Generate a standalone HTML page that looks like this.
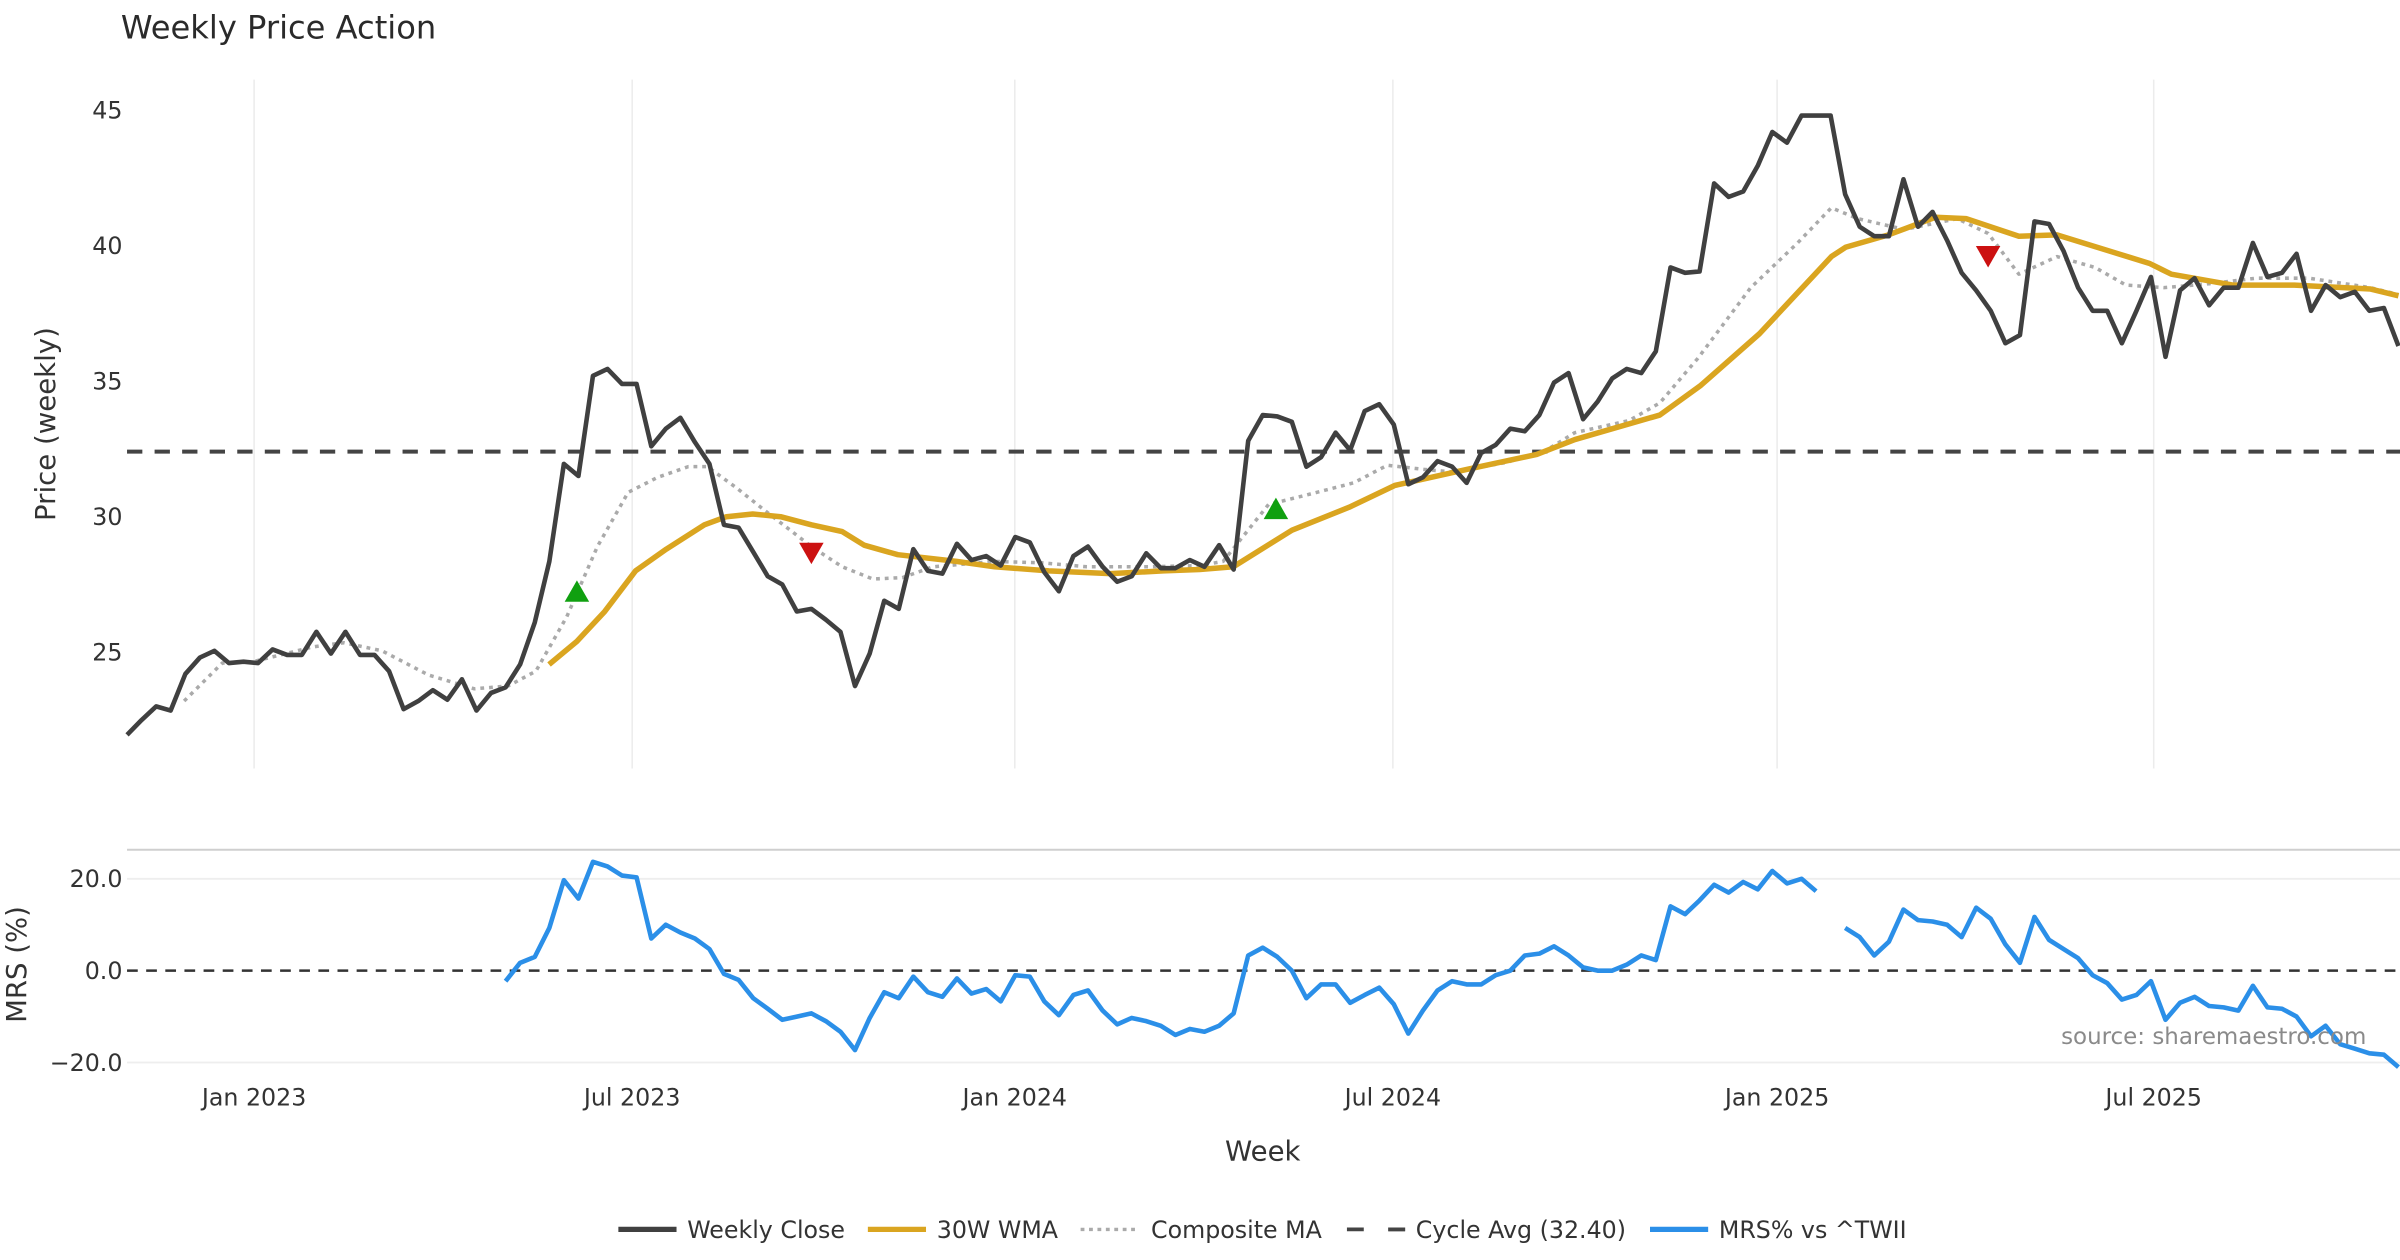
<!DOCTYPE html>
<html><head><meta charset="utf-8"><title>Weekly Price Action</title>
<style>
html,body{margin:0;padding:0;background:#fff;}
svg{display:block;font-family:"DejaVu Sans","Liberation Sans",sans-serif;}
</style></head>
<body>
<svg id="chart" width="2400" height="1260" viewBox="0 0 1568 823" preserveAspectRatio="none" xmlns="http://www.w3.org/2000/svg">
  <text x="79" y="25" font-size="21" fill="#2a2a2a">Weekly Price Action</text>
  <g id="grid"></g>
  <g id="price"></g>
  <g id="mrs"></g>
  <g id="axes"></g>
  <text transform="translate(36,277) rotate(-90)" text-anchor="middle" font-size="18" fill="#333">Price (weekly)</text>
  <text transform="translate(17,630) rotate(-90)" text-anchor="middle" font-size="18" fill="#333">MRS (%)</text>
  <text x="825" y="758" text-anchor="middle" font-size="18" fill="#333">Week</text>
  <text x="1546" y="682" text-anchor="end" font-size="15" fill="#8a8a8a">source: sharemaestro.com</text>
  <g font-size="15.5" fill="#333">
    <g><line x1="404" y1="803" x2="442" y2="803" stroke="#404040" stroke-width="3.5"/><text x="449" y="808.5">Weekly Close</text></g>
    <g><line x1="567" y1="803" x2="605" y2="803" stroke="#DAA520" stroke-width="3.5"/><text x="612" y="808.5">30W WMA</text></g>
    <g><line x1="706" y1="803" x2="744" y2="803" stroke="#aaa" stroke-width="2.2" stroke-dasharray="2.5,3"/><text x="752" y="808.5">Composite MA</text></g>
    <g><line x1="880" y1="803" x2="918" y2="803" stroke="#444" stroke-width="2.5" stroke-dasharray="11,16"/><line x1="907" y1="803" x2="918" y2="803" stroke="#444" stroke-width="2.5"/><text x="925" y="808.5">Cycle Avg (32.40)</text></g>
    <g><line x1="1078" y1="803" x2="1116" y2="803" stroke="#2b8fe8" stroke-width="3.5"/><text x="1123" y="808.5">MRS% vs ^TWII</text></g>
  </g>
</svg>
<script>
const closes = [21.95,22.5,23.0,22.85,24.2,24.8,25.05,24.6,24.65,24.6,25.1,24.9,24.9,25.75,24.95,25.75,24.9,24.9,24.3,22.9,23.2,23.6,23.25,24.0,22.85,23.5,23.7,24.55,26.1,28.35,31.95,31.5,35.2,35.45,34.9,34.9,32.6,33.25,33.65,32.75,31.95,29.7,29.6,28.7,27.8,27.5,26.5,26.6,26.2,25.75,23.75,24.95,26.9,26.6,28.8,28.0,27.9,29.0,28.4,28.55,28.2,29.25,29.05,27.95,27.25,28.55,28.9,28.15,27.6,27.8,28.65,28.1,28.1,28.4,28.15,28.95,28.05,32.8,33.75,33.7,33.5,31.85,32.2,33.1,32.45,33.9,34.15,33.4,31.2,31.45,32.05,31.85,31.25,32.35,32.65,33.25,33.15,33.75,34.95,35.3,33.6,34.25,35.1,35.45,35.3,36.1,39.2,39.0,39.05,42.3,41.8,42.0,42.95,44.2,43.8,44.8,44.8,44.8,41.9,40.7,40.35,40.35,42.45,40.7,41.25,40.2,39.0,38.35,37.6,36.4,36.7,40.9,40.8,39.8,38.45,37.6,37.6,36.4,37.6,38.85,35.9,38.35,38.8,37.8,38.45,38.45,40.1,38.85,39.0,39.7,37.6,38.55,38.1,38.3,37.6,37.7,36.3];
const wmaWeeks = [28.8,30.7,32.6,34.7,36.8,39.4,40.9,42.7,44.6,46.7,48.8,50.3,52.6,56.6,59.2,62.9,67.1,70.7,73.2,75.5,79.5,83.4,86.5,91.5,96.2,98.8,104.6,107.4,111.4,116.3,117.3,120.2,123.4,125.5,129.1,131.7,135.9,138,139.5,143.7,147.9,153.1,155];
const wmaValues = [24.55,25.4,26.5,28.0,28.8,29.7,30.0,30.1,30.0,29.7,29.45,28.95,28.6,28.35,28.15,28.0,27.9,28.0,28.05,28.15,29.5,30.35,31.15,31.75,32.3,32.85,33.75,34.85,36.75,39.6,39.95,40.4,41.05,41.0,40.35,40.4,39.7,39.35,38.95,38.55,38.55,38.4,38.15];
const compWeeks = [3.9,6.5,8.6,12.7,14.8,17.4,20.6,23.7,26,27.9,30,32.1,34.2,36.2,38.3,39.6,41.5,43.6,46.7,48.8,50.9,52.9,55,59.2,62.4,65.5,69.7,73.2,74.8,77.9,80.5,83.7,86,88.4,90.5,94.1,96.7,98.8,102.5,104.6,107.2,110.8,114,116.3,118.1,121.3,124.9,127,129.1,131.7,134.3,136.4,139,142.1,145.3,148.9,153.1,155];
const compValues = [23.2,24.6,24.65,25.2,25.35,25.05,24.15,23.65,23.75,24.3,26.3,28.9,30.9,31.45,31.85,31.85,31.1,30.2,28.9,28.15,27.7,27.75,28.15,28.35,28.3,28.15,28.15,28.2,28.35,30.45,30.8,31.25,31.9,31.75,31.65,32.0,32.4,33.1,33.55,34.2,35.85,38.45,40.1,41.4,41.0,40.6,41.0,40.45,38.95,39.6,39.2,38.55,38.45,38.6,38.8,38.8,38.45,38.2];
const cycleAvg = 32.40;
const buyWeeks = [30.7,78.4];
const buyValues = [27.2,30.25];
const sellWeeks = [46.7,127];
const sellValues = [28.7,39.65];
const mrsStart1 = 26;
const mrsSeg1 = [-2.3,1.7,3,9.3,19.7,15.7,23.7,22.7,20.7,20.3,7,10,8.3,7,4.7,-0.7,-2,-6,-8.3,-10.7,-10,-9.3,-11,-13.3,-17.3,-10.3,-4.7,-6,-1.3,-4.7,-5.7,-1.7,-5,-4,-6.7,-1,-1.3,-6.7,-9.7,-5.3,-4.3,-8.7,-11.7,-10.3,-11,-12,-14,-12.7,-13.3,-12,-9.3,3.3,5,3,0,-6,-3,-3,-7,-5.3,-3.7,-7.3,-13.7,-8.7,-4.3,-2.3,-3,-3,-1,0,3.3,3.7,5.3,3.3,0.7,0,0,1.3,3.3,2.3,14,12.3,15.3,18.7,17,19.3,17.7,21.7,19,20,17.3];
const mrsStart2 = 118;
const mrsSeg2 = [9.3,7.3,3.3,6.3,13.3,11,10.7,10,7.3,13.7,11.3,5.7,1.7,11.7,6.7,4.7,2.7,-1,-2.7,-6.3,-5.3,-2.3,-10.7,-7,-5.7,-7.7,-8,-8.7,-3.3,-8,-8.3,-10,-14.3,-12,-16,-17,-18,-18.3,-21];
const priceTicks = [25,30,35,40,45];
const mrsTicks = [20,0,-20];
const mrsTickLabels = ["20.0","0.0","\u221220.0"];
const dateTickWeeks = [8.67,34.47,60.58,86.38,112.6,138.3];
const dateTickLabels = ["Jan 2023","Jul 2023","Jan 2024","Jul 2024","Jan 2025","Jul 2025"];

const NS = "http://www.w3.org/2000/svg";
const X0 = 83, X1 = 1567;
const xs = i => X0 + i * (X1 - X0) / (closes.length - 1);
const xw = w => X0 + w * 9.574;
const yp = v => 72 + (45 - v) * 17.7;
const ym = v => 634 - v * 3;
function mk(tag, attrs, parent) {
  const el = document.createElementNS(NS, tag);
  for (const k in attrs) el.setAttribute(k, attrs[k]);
  parent.appendChild(el);
  return el;
}
const grid = document.getElementById('grid');
const price = document.getElementById('price');
const mrs = document.getElementById('mrs');
const axes = document.getElementById('axes');

dateTickWeeks.forEach((w, k) => {
  const g = mk('line', {x1: xw(w), x2: xw(w), y1: 52, y2: 502, stroke: '#ececec', 'stroke-width': 1}, grid);
  
  
  const t = mk('text', {x: xw(w), y: 722, 'text-anchor': 'middle', 'font-size': 15.5, fill: '#333'}, axes);
  t.textContent = dateTickLabels[k];
  
  
});
priceTicks.forEach(v => {
  const t = mk('text', {x: 80, y: yp(v) + 5.5, 'text-anchor': 'end', 'font-size': 15.5, fill: '#333'}, axes);
  t.textContent = String(v);
  
  
});
const sep = mk('line', {x1: X0, x2: 1568, y1: 555, y2: 555, stroke: '#cfcfcf', 'stroke-width': 1.3}, grid);


mrsTicks.forEach((v, k) => {
  if (v !== 0) {
    const g = mk('line', {x1: X0, x2: 1568, y1: ym(v), y2: ym(v), stroke: '#eeeeee', 'stroke-width': 1.2}, grid);
    
    
  }
  const t = mk('text', {x: 80, y: ym(v) + 5.5, 'text-anchor': 'end', 'font-size': 15.5, fill: '#333'}, axes);
  t.textContent = mrsTickLabels[k];
  
  
});

function pathFrom(weeks, vals, xf, yf) {
  return weeks.map((w, i) => (i ? 'L' : 'M') + xf(w).toFixed(1) + ',' + yf(vals[i]).toFixed(1)).join('');
}
const cyc = mk('line', {x1: X0, x2: 1568, y1: yp(cycleAvg), y2: yp(cycleAvg), stroke: '#444', 'stroke-width': 2.6, 'stroke-dasharray': '10,8'}, price);


const comp = mk('path', {d: pathFrom(compWeeks, compValues, xw, yp), fill: 'none', stroke: '#aaa', 'stroke-width': 2.3, 'stroke-dasharray': '2.5,3.2', 'stroke-linejoin': 'round'}, price);


const wma = mk('path', {d: pathFrom(wmaWeeks, wmaValues, xw, yp), fill: 'none', stroke: '#DAA520', 'stroke-width': 3.6, 'stroke-linejoin': 'round'}, price);


const cl = mk('path', {d: pathFrom(closes.map((_, i) => i), closes, xs, yp), fill: 'none', stroke: '#404040', 'stroke-width': 3, 'stroke-linejoin': 'round'}, price);


buyWeeks.forEach((w, i) => {
  const x = xw(w), y = yp(buyValues[i]);
  const m = mk('polygon', {points: `${x-8},${y+6} ${x+8},${y+6} ${x},${y-8}`, fill: '#10a010'}, price);
  
  
});
sellWeeks.forEach((w, i) => {
  const x = xw(w), y = yp(sellValues[i]);
  const m = mk('polygon', {points: `${x-8},${y-6} ${x+8},${y-6} ${x},${y+8}`, fill: '#cc1111'}, price);
  
  
});

const zero = mk('line', {x1: X0, x2: 1568, y1: ym(0), y2: ym(0), stroke: '#333', 'stroke-width': 1.6, 'stroke-dasharray': '7,5.5'}, mrs);


[[mrsStart1, mrsSeg1], [mrsStart2, mrsSeg2]].forEach(([s, seg]) => {
  const p = mk('path', {d: pathFrom(seg.map((_, i) => s + i), seg, xs, ym), fill: 'none', stroke: '#2b8fe8', 'stroke-width': 3, 'stroke-linejoin': 'round'}, mrs);
  
  
});
</script>
</body></html>
